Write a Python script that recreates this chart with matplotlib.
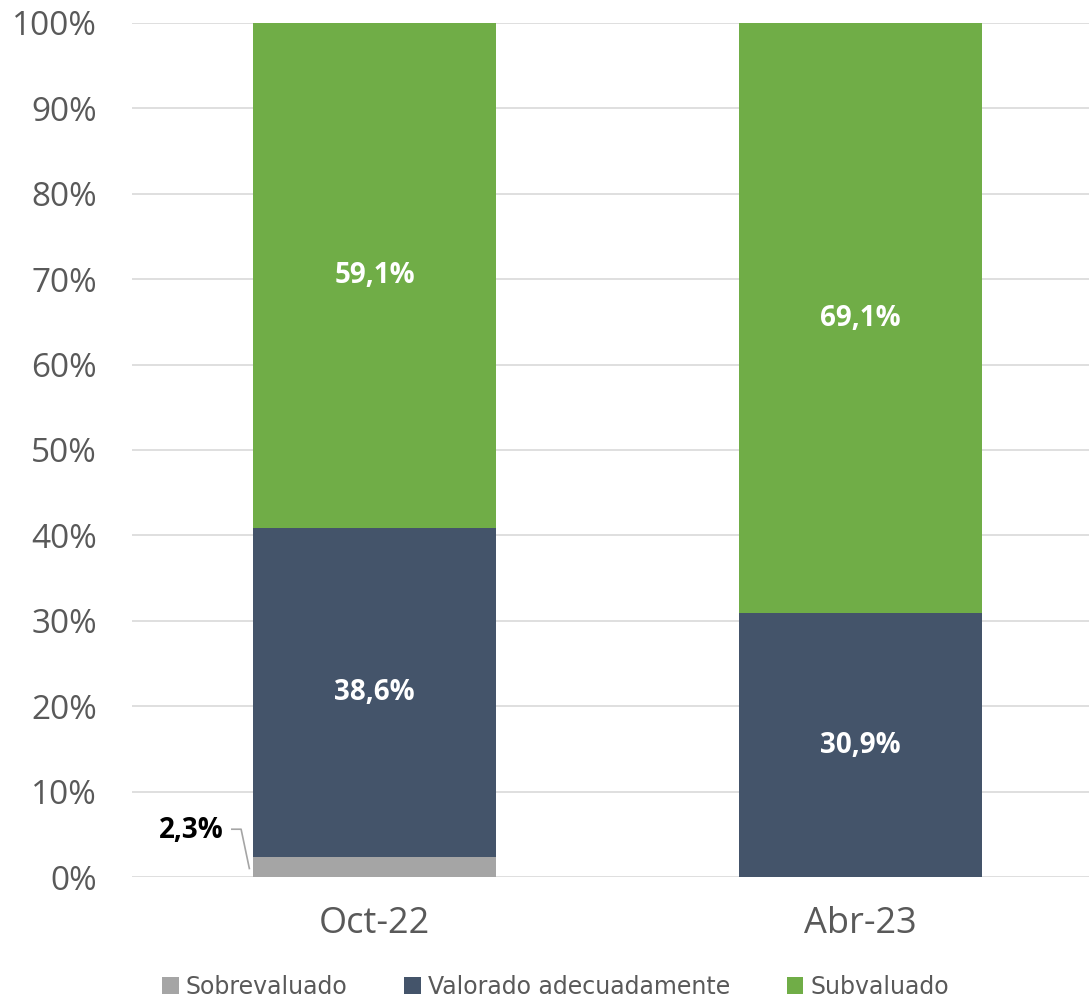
import numpy as np
import matplotlib.pyplot as plt
from matplotlib.ticker import PercentFormatter

categories = ['Oct-22', 'Abr-23']
series_names = ['Sobrevaluado', 'Valorado adecuadamente', 'Subvaluado']
sobrevaluado = [2.3, 0.0]
valorado = [38.6, 30.9]
subvaluado = [59.1, 69.1]
colors = ['#A5A5A5', '#44546A', '#70AD47']

fig = plt.figure(figsize=(10.89, 9.98), dpi=100)
ax = fig.add_axes([0.121, 0.1212, 0.879, 0.8558])

x = np.arange(len(categories))
width = 0.5
bottom = np.zeros(len(categories))
bars = []
for vals, name, c in zip([sobrevaluado, valorado, subvaluado], series_names, colors):
    b = ax.bar(x, vals, width, bottom=bottom, color=c, label=name, zorder=2)
    bars.append((vals, bottom.copy()))
    bottom += np.array(vals)

# segment labels (white, bold) for the big segments
for vals, bot in bars[1:]:
    for i, v in enumerate(vals):
        ax.text(x[i], bot[i] + v / 2, f'{v:.1f}%'.replace('.', ','),
                ha='center', va='center', color='white', fontsize=20,
                fontweight='bold', family='Open Sans', zorder=3)

# small segment label with leader line
v = sobrevaluado[0]
ax.text(-0.377, 5.4, f'{v:.1f}%'.replace('.', ','), ha='center', va='center',
        color='black', fontsize=20, fontweight='bold', family='Open Sans')
ax.plot([-0.294, -0.275, -0.258], [5.6, 5.6, 1.0], color='#A5A5A5', lw=1.2,
        clip_on=False, zorder=3)

ax.set_xlim(-0.5, 1.47)
ax.set_ylim(0, 100)
ax.set_yticks(np.arange(0, 101, 10))
ax.yaxis.set_major_formatter(PercentFormatter(decimals=0))
ax.set_xticks(x)
ax.set_xticklabels(categories)
ax.tick_params(axis='x', length=0, labelsize=26, labelcolor='#595959', pad=21)
ax.tick_params(axis='y', length=0, labelsize=24, labelcolor='#595959', pad=25)
for lab in ax.get_xticklabels() + ax.get_yticklabels():
    lab.set_family('Open Sans')

ax.grid(axis='y', color='#D9D9D9', lw=1.2, zorder=0)
for s in ax.spines.values():
    s.set_visible(False)

leg = fig.legend(loc='lower center', bbox_to_anchor=(0.51, -0.022), ncol=3,
                 frameon=False, fontsize=17, handlelength=0.7, handleheight=0.7,
                 handletextpad=0.3, columnspacing=2.4)
for t in leg.get_texts():
    t.set_color('#595959')

fig.savefig('out.png', dpi=100)
